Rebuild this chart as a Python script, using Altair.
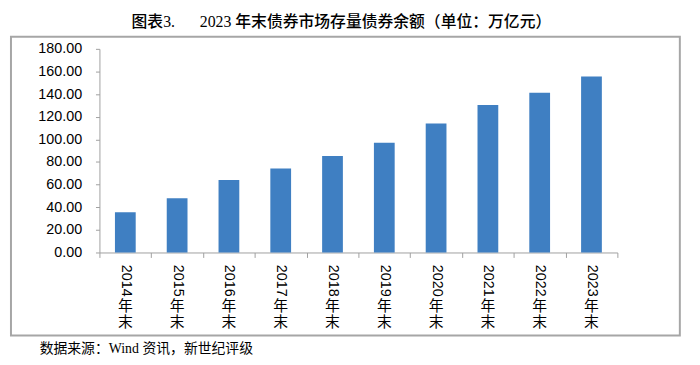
import altair as alt
import pandas as pd

# ---- data ----
categories = ["2014年末", "2015年末", "2016年末", "2017年末", "2018年末",
              "2019年末", "2020年末", "2021年末", "2022年末", "2023年末"]
values = [35.6, 48.0, 64.0, 74.2, 85.3, 96.9, 114.1, 130.4, 141.2, 155.5]
y_ticks = [0, 20, 40, 60, 80, 100, 120, 140, 160, 180]
title_prefix = "图表3."
title_main = "2023 年末债券市场存量债券余额（单位：万亿元）"
source_text = "数据来源：Wind 资讯，新世纪评级"

df = pd.DataFrame({"cat": categories, "value": values})

GRAY = "#a0a0a0"
BLUE = "#3f7fc2"
LATIN = "Liberation Sans"
CJK = "Noto Sans CJK SC"

W, H = 524, 206

x_enc = alt.X("cat:N", sort=categories,
              scale=alt.Scale(paddingInner=0, paddingOuter=0),
              axis=alt.Axis(title=None, labelAngle=90, labelAlign="left",
                            labelBaseline="middle", labelPadding=7,
                            tickSize=5, tickBand="extent",
                            labelExpr="substring(datum.label, 0, 4)",
                            labelFont=LATIN, labelFontSize=14.5,
                            labelColor="#000000", domainColor=GRAY,
                            tickColor=GRAY, labelOverlap=False))

bars = alt.Chart(df).mark_bar(size=21, color=BLUE).encode(
    x=x_enc,
    y=alt.Y("value:Q",
            scale=alt.Scale(domain=[0, 180], nice=False),
            axis=alt.Axis(title=None, values=y_ticks, format=".2f",
                          grid=False, tickSize=4, labelPadding=14,
                          labelFont=LATIN, labelFontSize=14.5,
                          labelColor="#000000", domainColor=GRAY,
                          tickColor=GRAY)),
)

chars = alt.Chart(df).transform_calculate(
    c="substring(datum.cat, 4, 5) + '\\n' + substring(datum.cat, 5, 6)"
).mark_text(font=CJK, fontSize=15, baseline="middle", lineBreak="\n",
            lineHeight=15.5, color="#000000").encode(
    x=alt.X("cat:N", sort=categories), y=alt.value(260.4), text="c:N")

one = pd.DataFrame({"a": [0]})

box = alt.Chart(one).mark_rect(fillOpacity=0, stroke="#a6a6a6", strokeWidth=2).encode(
    x=alt.value(-89.5), x2=alt.value(587.2), y=alt.value(-12.3), y2=alt.value(290))

t1 = alt.Chart(pd.DataFrame({"t": [title_prefix]})).mark_text(
    font="Liberation Serif, " + CJK, fontSize=16, fontWeight=500,
    align="left", baseline="middle", color="#000000").encode(
    x=alt.value(32.5), y=alt.value(-27.5), text="t:N")

t2 = alt.Chart(pd.DataFrame({"t": [title_main]})).mark_text(
    font="Liberation Serif, " + CJK, fontSize=16, fontWeight=500,
    align="left", baseline="middle", color="#000000").encode(
    x=alt.value(101.5), y=alt.value(-27.5), text="t:N")

src = alt.Chart(pd.DataFrame({"t": [source_text]})).mark_text(
    font="Liberation Serif, " + CJK, fontSize=14,
    align="left", baseline="middle", color="#000000").encode(
    x=alt.value(-60.5), y=alt.value(303.2), text="t:N")

chart = alt.layer(box, bars, chars, t1, t2, src).properties(
    width=W, height=H,
    autosize=alt.AutoSizeParams(type="none"),
    padding={"left": 92.5, "top": 39.3, "right": 75.5, "bottom": 103.7},
    background="#ffffff",
).configure_view(strokeOpacity=0)

chart.save("out.html", embed_options={"renderer": "svg", "actions": False})
